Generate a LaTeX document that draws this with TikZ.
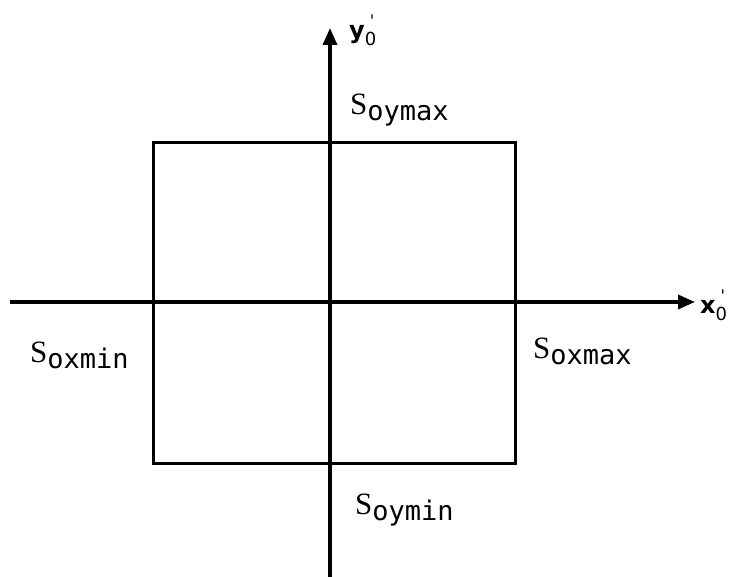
\documentclass[tikz,border=0pt]{standalone}
\usepackage{fontspec}
\setmainfont{Liberation Serif}
\setmonofont{DejaVu Sans Mono}
\setsansfont{DejaVu Sans}
\usetikzlibrary{arrows.meta}
\newcommand{\subtxt}[1]{\raisebox{-6pt}{\ttfamily\fontsize{27}{29}\selectfont #1}}
\newcommand{\primesub}{\raisebox{-7pt}{\mdseries\fontsize{18}{18}\selectfont 0}\llap{\raisebox{12pt}{\mdseries\fontsize{16}{18}\selectfont\textquotesingle\hspace{2pt}}}}
\begin{document}
\begin{tikzpicture}[x=1pt,y=-1pt,
  axis/.style={line width=3.4pt,-{Triangle[length=17pt,width=14pt]}},
  box/.style={line width=3pt},
  lab/.style={inner sep=0pt,anchor=west,font=\fontsize{31}{33}\selectfont},
  axlab/.style={inner sep=0pt,anchor=west,font=\sffamily\bfseries\fontsize{24}{26}\selectfont}]
\useasboundingbox (0,0) rectangle (736,577);
\coordinate (vb) at (330,577);
\coordinate (vt) at (330,28);
\coordinate (hl) at (10,302);
\coordinate (hr) at (695,302);
\draw[box] (153,143) rectangle (515,463);
\draw[axis] (vb) -- (vt);
\draw[axis] (hl) -- (hr);
\node[axlab] (yl) at (349,30) {y\primesub};
\node[axlab] (xl) at (700,305) {x\primesub};
\node[lab] (symax) at (350,110) {S\subtxt{oymax}};
\node[lab] (sxmin) at (30,355) {S\subtxt{oxmin}};
\node[lab] (sxmax) at (533,351) {S\subtxt{oxmax}};
\node[lab] (symin) at (355,510) {S\subtxt{oymin}};
\end{tikzpicture}
\end{document}
